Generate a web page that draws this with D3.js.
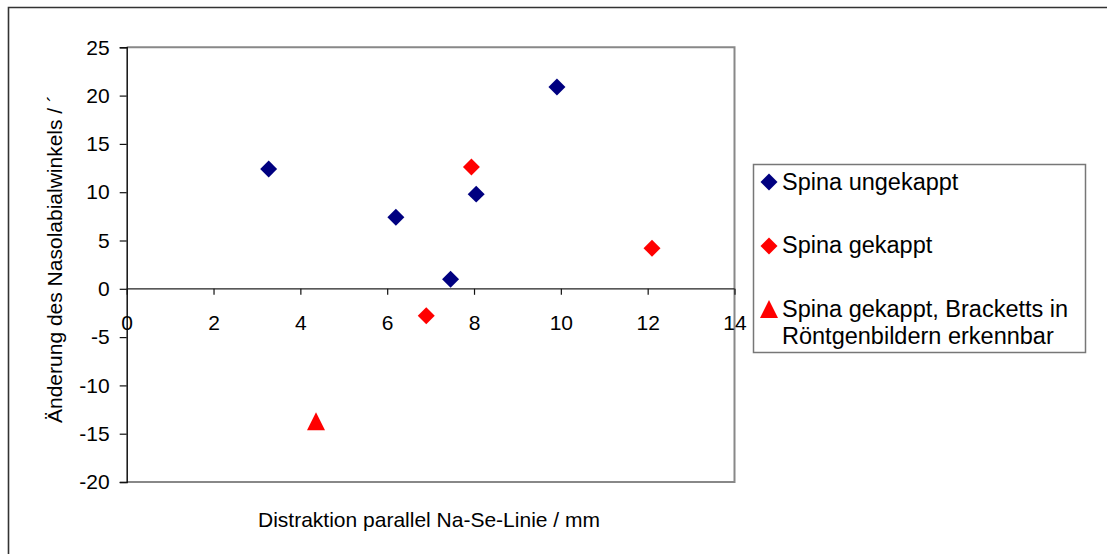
<!DOCTYPE html>
<html>
<head>
<meta charset="utf-8">
<script src="https://cdn.jsdelivr.net/npm/d3@7"></script>
<style>
  html, body { margin: 0; padding: 0; background: #fff; }
  svg { display: block; font-family: "Liberation Sans", Arial, Helvetica, sans-serif; }
</style>
</head>
<body>
<svg id="chart" width="1107" height="554"></svg>
<script>
// ---- data ----
const seriesNames = ["Spina ungekappt", "Spina gekappt", "Spina gekappt, Bracketts in Röntgenbildern erkennbar"];
const ungekapptX = [3.27, 6.2, 7.46, 8.05, 9.91];
const ungekapptY = [12.4, 7.4, 1.0, 9.8, 20.9];
const gekapptX = [7.94, 12.1, 6.9];
const gekapptY = [12.6, 4.2, -2.8];
const bracketsX = [4.36];
const bracketsY = [-13.7];
const xTicks = [0, 2, 4, 6, 8, 10, 12, 14];
const yTicks = [-20, -15, -10, -5, 0, 5, 10, 15, 20, 25];
const xTitle = "Distraktion parallel Na-Se-Linie / mm";
const yTitle = "Änderung des Nasolabialwinkels / ´";

const svg = d3.select("#chart");
svg.append("rect").attr("width", 1107).attr("height", 554).attr("fill", "#fff");

// outer chart-area border (only left and top visible)
svg.append("path").attr("d", "M8.5,554 L8.5,7.5 L1107,7.5")
  .attr("fill", "none").attr("stroke", "#333").attr("stroke-width", 1.6);

const x = d3.scaleLinear().domain([0, 14]).range([126.7, 734.5]);
const y = d3.scaleLinear().domain([-20, 25]).range([482, 47.3]);

// plot frame (gray)
svg.append("path")
  .attr("d", `M${x(0)},${y(25)} L${x(14)},${y(25)} L${x(14)},${y(-20)} L${x(0)},${y(-20)}`)
  .attr("fill", "none").attr("stroke", "#888").attr("stroke-width", 2);

const fontTick = 21;
const fmt = d => String(d);

// y axis
const yAxis = d3.axisLeft(y).tickValues(yTicks).tickSize(7).tickPadding(10).tickFormat(fmt);
const gy = svg.append("g").attr("transform", `translate(${x(0)},0)`).call(yAxis);
gy.select(".domain").attr("stroke", "#111").attr("stroke-width", 1.5);
gy.selectAll(".tick line").attr("stroke", "#111").attr("stroke-width", 1.2);
gy.selectAll(".tick text").attr("font-size", fontTick).attr("fill", "#000")
  .attr("font-family", "Liberation Sans, Arial, sans-serif");

// x axis at y = 0
const xAxis = d3.axisBottom(x).tickValues(xTicks).tickSize(6).tickPadding(20).tickFormat(fmt);
const gx = svg.append("g").attr("transform", `translate(0,${y(0)})`).call(xAxis);
gx.select(".domain").attr("stroke", "#222").attr("stroke-width", 1.3).attr("d", `M${x(0)},0H${x(14)}`);
gx.selectAll(".tick line").attr("stroke", "#111").attr("stroke-width", 1.2);
gx.selectAll(".tick text").attr("font-size", fontTick).attr("fill", "#000")
  .attr("font-family", "Liberation Sans, Arial, sans-serif");

// axis titles
svg.append("text").attr("x", 429).attr("y", 527).attr("text-anchor", "middle")
  .attr("font-size", 21).attr("fill", "#000").text(xTitle);
svg.append("text").attr("transform", "translate(62,259) rotate(-90)").attr("text-anchor", "middle")
  .attr("font-size", 21).attr("fill", "#000").text(yTitle);

// symbols
const diamond = d3.symbol().type(d3.symbolSquare).size(144);
const isoTriangle = {
  draw(ctx, size) {
    const h = Math.sqrt(size);
    ctx.moveTo(0, -h / 2);
    ctx.lineTo(h / 2, h / 2);
    ctx.lineTo(-h / 2, h / 2);
    ctx.closePath();
  }
};
const triangle = d3.symbol().type(isoTriangle).size(18 * 18);

const navy = "#000080", red = "#ff0000";

function drawDiamonds(xs, ys, color) {
  svg.append("g").selectAll("path").data(xs.map((v, i) => [v, ys[i]])).join("path")
    .attr("d", diamond)
    .attr("transform", d => `translate(${x(d[0])},${y(d[1])}) rotate(45)`)
    .attr("fill", color);
}
drawDiamonds(ungekapptX, ungekapptY, navy);
drawDiamonds(gekapptX, gekapptY, red);
svg.append("g").selectAll("path").data(bracketsX.map((v, i) => [v, bracketsY[i]])).join("path")
  .attr("d", triangle)
  .attr("transform", d => `translate(${x(d[0])},${y(d[1])})`)
  .attr("fill", red);

// legend
const lg = svg.append("g");
lg.append("rect").attr("x", 753.5).attr("y", 164.5).attr("width", 332).attr("height", 188)
  .attr("fill", "#fff").attr("stroke", "#777").attr("stroke-width", 1.5);
const fontLeg = 23.5;
lg.append("path").attr("d", diamond).attr("transform", "translate(769,182) rotate(45)").attr("fill", navy);
lg.append("text").attr("x", 782).attr("y", 190).attr("font-size", fontLeg).text(seriesNames[0]);
lg.append("path").attr("d", diamond).attr("transform", "translate(769,246) rotate(45)").attr("fill", red);
lg.append("text").attr("x", 782).attr("y", 253.3).attr("font-size", fontLeg).text(seriesNames[1]);
lg.append("path").attr("d", triangle).attr("transform", "translate(769,309)").attr("fill", red);
const t3 = lg.append("text").attr("x", 782).attr("y", 316.7).attr("font-size", fontLeg);
t3.append("tspan").attr("x", 782).text("Spina gekappt, Bracketts in");
t3.append("tspan").attr("x", 782).attr("y", 344).text("Röntgenbildern erkennbar");
</script>
</body>
</html>
